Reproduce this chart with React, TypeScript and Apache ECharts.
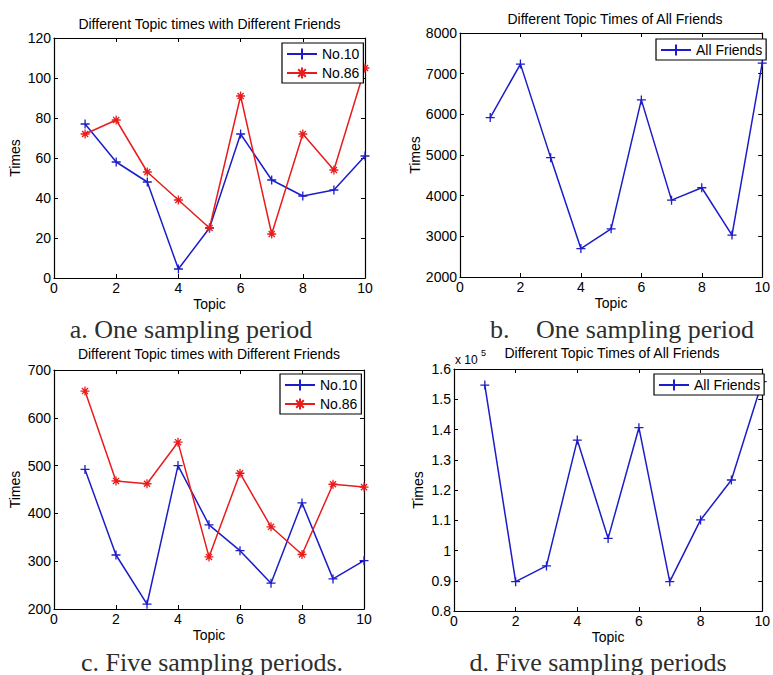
import React, { useEffect, useRef } from "react";
import * as echarts from "echarts";

const topics = [1, 2, 3, 4, 5, 6, 7, 8, 9, 10];
const oneNo10 = [77, 58, 48, 4.5, 25, 72, 49, 41, 44, 61];
const oneNo86 = [72, 79, 53, 39, 25, 91, 22, 72, 54, 105];
const oneAll = [5920, 7235, 4935, 2700, 3185, 6355, 3890, 4195, 3030, 7260];
const fiveNo10 = [492, 313, 210, 500, 376, 322, 254, 422, 263, 301];
const fiveNo86 = [656, 468, 462, 549, 309, 484, 372, 314, 461, 455];
const fiveAll = [154700, 89700, 94900, 136500, 104000, 140600, 89700, 110100, 123300, 155800];

const titles = [
  "Different Topic times with Different Friends",
  "Different Topic Times of All Friends",
  "Different Topic times with Different Friends",
  "Different Topic Times of All Friends",
];
const captions = ["a. One sampling period", "One sampling period", "c. Five sampling periods.", "d. Five sampling periods"];

const SANS = "'Liberation Sans', Arial, Helvetica, sans-serif";
const SERIF = "'Liberation Serif', 'Times New Roman', serif";
const BLUE = "#1c1cc8";
const RED = "#e81c1c";
const PLUS = "path://M5,0L5,10M0,5L10,5";
const STAR = "path://M5,0L5,10M0,5L10,5M1.6,1.6L8.4,8.4M8.4,1.6L1.6,8.4";

const grids = [
  { left: 54, top: 38, width: 311, height: 240 },
  { left: 460, top: 33, width: 310, height: 244 },
  { left: 54, top: 370, width: 310, height: 239 },
  { left: 454, top: 369, width: 316, height: 242 },
];
const yRanges = [
  { min: 0, max: 120, interval: 20, gap: 32 },
  { min: 2000, max: 8000, interval: 1000, gap: 38 },
  { min: 200, max: 700, interval: 100, gap: 32 },
  { min: 80000, max: 160000, interval: 10000, gap: 29 },
];

const pairs = (vals: number[]) => topics.map((t, i) => [t, vals[i]]);

function mkSeries(name: string, vals: number[], g: number, color: string, symbol: string) {
  return {
    type: "line",
    name,
    xAxisIndex: 2 * g,
    yAxisIndex: 2 * g,
    data: pairs(vals),
    symbol,
    symbolSize: 9,
    showSymbol: true,
    showAllSymbol: true,
    lineStyle: { color, width: 1.5 },
    itemStyle: { color, borderColor: color, borderWidth: 1.3 },
    emphasis: { disabled: true },
  };
}

export default function App() {
  const ref = useRef<HTMLDivElement>(null);
  useEffect(() => {
    if (!ref.current) return;
    const chart = echarts.init(ref.current, undefined, { renderer: "svg" });
    const axisLine = { show: true, onZero: false, lineStyle: { color: "#000", width: 1.2 } };
    const axisTick = { show: true, inside: true, length: 4, lineStyle: { color: "#000", width: 1 } };
    const xAxis: any[] = [];
    const yAxis: any[] = [];
    grids.forEach((_, g) => {
      xAxis.push({
        type: "value", gridIndex: g, min: 0, max: 10, interval: 2, position: "bottom",
        name: "Topic", nameLocation: "middle", nameGap: 19,
        nameTextStyle: { color: "#000", fontSize: 14, fontFamily: SANS },
        axisLine, axisTick,
        axisLabel: { color: "#000", fontSize: 14, margin: 3, fontFamily: SANS },
        splitLine: { show: false },
      });
      xAxis.push({
        type: "value", gridIndex: g, min: 0, max: 10, interval: 2, position: "top",
        axisLine, axisTick, axisLabel: { show: false }, splitLine: { show: false },
      });
      const r = yRanges[g];
      yAxis.push({
        type: "value", gridIndex: g, min: r.min, max: r.max, interval: r.interval, position: "left",
        name: "Times", nameLocation: "middle", nameGap: r.gap,
        nameTextStyle: { color: "#000", fontSize: 14, fontFamily: SANS },
        axisLine, axisTick,
        axisLabel: {
          color: "#000", fontSize: 14, margin: 3, fontFamily: SANS,
          formatter: g === 3 ? (v: number) => String(v / 100000) : (v: number) => String(v),
        },
        splitLine: { show: false },
      });
      yAxis.push({
        type: "value", gridIndex: g, min: r.min, max: r.max, interval: r.interval, position: "right",
        axisLine, axisTick, axisLabel: { show: false }, splitLine: { show: false },
      });
    });

    const titleTops = [17, 12, 347, 346];
    const title = titles.map((t, g) => ({
      text: t,
      left: grids[g].left + grids[g].width / 2,
      top: titleTops[g],
      textAlign: "center",
      padding: 0,
      textStyle: { color: "#000", fontSize: 14, fontWeight: "normal", fontFamily: SANS },
    }));

    const legendPos = [
      { left: 282, top: 43, data: ["No.10", "No.86"] },
      { left: 656, top: 39, data: ["All Friends"] },
      { left: 280, top: 374, data: ["No.10", "No.86"] },
      { left: 654, top: 374, data: ["All Friends"] },
    ];
    const legend = legendPos.map((l) => ({
      ...l,
      orient: "vertical",
      backgroundColor: "#fff",
      borderColor: "#000",
      borderWidth: 1.2,
      borderRadius: 0,
      padding: [4, 4, 3, 4],
      itemGap: 5,
      itemWidth: 30,
      itemHeight: 14,
      textStyle: { color: "#000", fontSize: 14, fontFamily: SANS },
      selectedMode: false,
    }));

    const capStyle = (text: string, align: string) => ({
      text, fill: "#2e2e2e", font: `26px ${SERIF}`, align, textAlign: align,
      verticalAlign: "middle", textVerticalAlign: "middle",
    });
    const graphic = [
      { type: "text", x: 191, y: 329, style: capStyle(captions[0], "center") },
      { type: "text", x: 490, y: 329, style: capStyle("b.", "left") },
      { type: "text", x: 536, y: 329, style: capStyle(captions[1], "left") },
      { type: "text", x: 212, y: 662, style: capStyle(captions[2], "center") },
      { type: "text", x: 598, y: 662, style: capStyle(captions[3], "center") },
      { type: "text", x: 455, y: 360, style: { text: "x 10", fill: "#000", font: `12px ${SANS}`, align: "left", textAlign: "left", verticalAlign: "middle", textVerticalAlign: "middle" } },
      { type: "text", x: 481, y: 353, style: { text: "5", fill: "#000", font: `9px ${SANS}`, align: "left", textAlign: "left", verticalAlign: "middle", textVerticalAlign: "middle" } },
    ];

    chart.setOption({
      animation: false,
      backgroundColor: "#fff",
      title,
      legend,
      grid: grids.map((g) => ({ ...g, containLabel: false })),
      xAxis,
      yAxis,
      series: [
        mkSeries("No.10", oneNo10, 0, BLUE, PLUS),
        mkSeries("No.86", oneNo86, 0, RED, STAR),
        mkSeries("All Friends", oneAll, 1, BLUE, PLUS),
        mkSeries("No.10", fiveNo10, 2, BLUE, PLUS),
        mkSeries("No.86", fiveNo86, 2, RED, STAR),
        mkSeries("All Friends", fiveAll, 3, BLUE, PLUS),
      ],
      graphic,
    });
    return () => chart.dispose();
  }, []);
  return (
    <div
      ref={ref}
      style={{ position: "absolute", left: 0, top: 0, width: 773, height: 675, overflow: "hidden", background: "#fff" }}
    />
  );
}
